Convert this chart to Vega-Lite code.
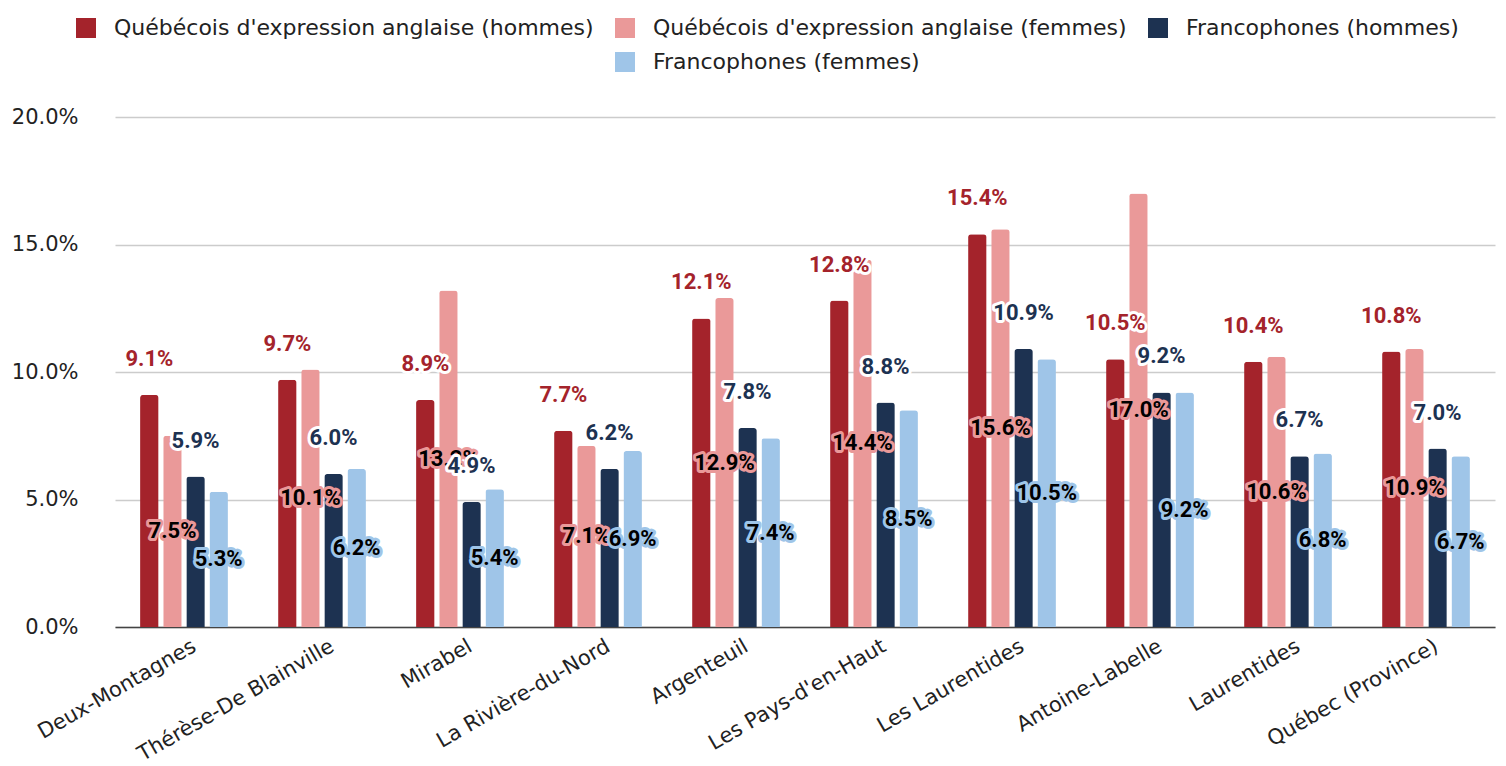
{
  "$schema": "https://vega.github.io/schema/vega-lite/v6.json",
  "width": 1414,
  "height": 510,
  "autosize": {"type": "none"},
  "padding": {"left": 90, "top": 117, "right": 2, "bottom": 139},
  "background": "white",
  "config": {"view": {"stroke": null}, "font": "DejaVu Sans"},
  "data": {"values": [
    {"region": "Deux-Montagnes", "serie": "Québécois d'expression anglaise (hommes)", "valeur": 0.091},
    {"region": "Deux-Montagnes", "serie": "Québécois d'expression anglaise (femmes)", "valeur": 0.075},
    {"region": "Deux-Montagnes", "serie": "Francophones (hommes)", "valeur": 0.059},
    {"region": "Deux-Montagnes", "serie": "Francophones (femmes)", "valeur": 0.053},
    {"region": "Thérèse-De Blainville", "serie": "Québécois d'expression anglaise (hommes)", "valeur": 0.097},
    {"region": "Thérèse-De Blainville", "serie": "Québécois d'expression anglaise (femmes)", "valeur": 0.101},
    {"region": "Thérèse-De Blainville", "serie": "Francophones (hommes)", "valeur": 0.060},
    {"region": "Thérèse-De Blainville", "serie": "Francophones (femmes)", "valeur": 0.062},
    {"region": "Mirabel", "serie": "Québécois d'expression anglaise (hommes)", "valeur": 0.089},
    {"region": "Mirabel", "serie": "Québécois d'expression anglaise (femmes)", "valeur": 0.132},
    {"region": "Mirabel", "serie": "Francophones (hommes)", "valeur": 0.049},
    {"region": "Mirabel", "serie": "Francophones (femmes)", "valeur": 0.054},
    {"region": "La Rivière-du-Nord", "serie": "Québécois d'expression anglaise (hommes)", "valeur": 0.077},
    {"region": "La Rivière-du-Nord", "serie": "Québécois d'expression anglaise (femmes)", "valeur": 0.071},
    {"region": "La Rivière-du-Nord", "serie": "Francophones (hommes)", "valeur": 0.062},
    {"region": "La Rivière-du-Nord", "serie": "Francophones (femmes)", "valeur": 0.069},
    {"region": "Argenteuil", "serie": "Québécois d'expression anglaise (hommes)", "valeur": 0.121},
    {"region": "Argenteuil", "serie": "Québécois d'expression anglaise (femmes)", "valeur": 0.129},
    {"region": "Argenteuil", "serie": "Francophones (hommes)", "valeur": 0.078},
    {"region": "Argenteuil", "serie": "Francophones (femmes)", "valeur": 0.074},
    {"region": "Les Pays-d'en-Haut", "serie": "Québécois d'expression anglaise (hommes)", "valeur": 0.128},
    {"region": "Les Pays-d'en-Haut", "serie": "Québécois d'expression anglaise (femmes)", "valeur": 0.144},
    {"region": "Les Pays-d'en-Haut", "serie": "Francophones (hommes)", "valeur": 0.088},
    {"region": "Les Pays-d'en-Haut", "serie": "Francophones (femmes)", "valeur": 0.085},
    {"region": "Les Laurentides", "serie": "Québécois d'expression anglaise (hommes)", "valeur": 0.154},
    {"region": "Les Laurentides", "serie": "Québécois d'expression anglaise (femmes)", "valeur": 0.156},
    {"region": "Les Laurentides", "serie": "Francophones (hommes)", "valeur": 0.109},
    {"region": "Les Laurentides", "serie": "Francophones (femmes)", "valeur": 0.105},
    {"region": "Antoine-Labelle", "serie": "Québécois d'expression anglaise (hommes)", "valeur": 0.105},
    {"region": "Antoine-Labelle", "serie": "Québécois d'expression anglaise (femmes)", "valeur": 0.170},
    {"region": "Antoine-Labelle", "serie": "Francophones (hommes)", "valeur": 0.092},
    {"region": "Antoine-Labelle", "serie": "Francophones (femmes)", "valeur": 0.092},
    {"region": "Laurentides", "serie": "Québécois d'expression anglaise (hommes)", "valeur": 0.104},
    {"region": "Laurentides", "serie": "Québécois d'expression anglaise (femmes)", "valeur": 0.106},
    {"region": "Laurentides", "serie": "Francophones (hommes)", "valeur": 0.067},
    {"region": "Laurentides", "serie": "Francophones (femmes)", "valeur": 0.068},
    {"region": "Québec (Province)", "serie": "Québécois d'expression anglaise (hommes)", "valeur": 0.108},
    {"region": "Québec (Province)", "serie": "Québécois d'expression anglaise (femmes)", "valeur": 0.109},
    {"region": "Québec (Province)", "serie": "Francophones (hommes)", "valeur": 0.070},
    {"region": "Québec (Province)", "serie": "Francophones (femmes)", "valeur": 0.067}
  ]},
  "encoding": {
    "x": {
      "field": "region", "type": "nominal", "sort": null,
      "scale": {"range": [25, 1405], "paddingInner": 0.33, "paddingOuter": 0.165},
      "axis": {
        "title": null, "labelAngle": -30, "labelAlign": "right", "labelBaseline": "top",
        "labelFont": "DejaVu Sans", "labelFontSize": 21, "labelColor": "#222222",
        "labelPadding": 8, "labelOffset": 5, "ticks": false, "domain": true, "domainColor": "#444444", "domainWidth": 1.5,
        "labelLimit": 400
      }
    },
    "xOffset": {
      "field": "serie", "type": "nominal",
      "scale": {"domain": ["Québécois d'expression anglaise (hommes)", "Québécois d'expression anglaise (femmes)", "Francophones (hommes)", "Francophones (femmes)"], "paddingInner": 0.2, "paddingOuter": 0.1}
    }
  },
  "layer": [
    {
      "mark": {"type": "bar", "cornerRadiusTopLeft": 3, "cornerRadiusTopRight": 3},
      "encoding": {
        "y": {
          "field": "valeur", "type": "quantitative",
          "scale": {"domain": [0, 0.2], "nice": false},
          "axis": {
            "title": null, "values": [0, 0.05, 0.1, 0.15, 0.2], "format": ".1%",
            "domain": false, "ticks": false, "gridColor": "#cccccc", "gridWidth": 1.5,
            "labelFont": "DejaVu Sans", "labelFontSize": 21, "labelColor": "#222222", "labelPadding": 12
          }
        },
        "color": {
          "field": "serie", "type": "nominal",
          "scale": {
            "domain": ["Québécois d'expression anglaise (hommes)", "Québécois d'expression anglaise (femmes)", "Francophones (hommes)", " ", "Francophones (femmes)"],
            "range": ["#A4232B", "#EA9999", "#1D3251", "transparent", "#9FC5E8"]
          },
          "legend": {
            "orient": "none", "legendX": -15, "legendY": -100, "direction": "horizontal", "columns": 3,
            "title": null, "symbolType": "square", "symbolSize": 400, "symbolStrokeWidth": 0,
            "labelFont": "DejaVu Sans", "labelFontSize": 22, "labelColor": "#222222", "labelOffset": 17,
            "columnPadding": 20, "rowPadding": 12, "labelLimit": 600
          }
        }
      }
    },
    {
      "transform": [{"filter": {"field": "serie", "equal": "Québécois d'expression anglaise (hommes)"}}],
      "mark": {"type": "text", "font": "Roboto", "fontWeight": "bold", "fontSize": 22, "baseline": "middle", "dy": -36, "stroke": "white", "strokeWidth": 6, "strokeJoin": "round", "fill": "white"},
      "encoding": {
        "y": {"field": "valeur", "type": "quantitative", "scale": {"domain": [0, 0.2], "nice": false}, "axis": null},
        "text": {"field": "valeur", "type": "quantitative", "format": ".1%"}
      }
    },
    {
      "transform": [{"filter": {"field": "serie", "equal": "Québécois d'expression anglaise (hommes)"}}],
      "mark": {"type": "text", "font": "Roboto", "fontWeight": "bold", "fontSize": 22, "baseline": "middle", "dy": -36, "fill": "#A4232B"},
      "encoding": {
        "y": {"field": "valeur", "type": "quantitative", "scale": {"domain": [0, 0.2], "nice": false}, "axis": null},
        "text": {"field": "valeur", "type": "quantitative", "format": ".1%"}
      }
    },
    {
      "transform": [{"filter": {"field": "serie", "equal": "Québécois d'expression anglaise (femmes)"}}],
      "mark": {"type": "text", "font": "Roboto", "fontWeight": "bold", "fontSize": 22, "baseline": "middle", "stroke": "#EA9999", "strokeWidth": 6, "strokeJoin": "round", "fill": "#EA9999"},
      "encoding": {
        "y": {"field": "valeur", "type": "quantitative", "scale": {"domain": [0, 0.4], "nice": false}, "axis": null},
        "text": {"field": "valeur", "type": "quantitative", "format": ".1%"}
      }
    },
    {
      "transform": [{"filter": {"field": "serie", "equal": "Québécois d'expression anglaise (femmes)"}}],
      "mark": {"type": "text", "font": "Roboto", "fontWeight": "bold", "fontSize": 22, "baseline": "middle", "fill": "#000000"},
      "encoding": {
        "y": {"field": "valeur", "type": "quantitative", "scale": {"domain": [0, 0.4], "nice": false}, "axis": null},
        "text": {"field": "valeur", "type": "quantitative", "format": ".1%"}
      }
    },
    {
      "transform": [{"filter": {"field": "serie", "equal": "Francophones (hommes)"}}],
      "mark": {"type": "text", "font": "Roboto", "fontWeight": "bold", "fontSize": 22, "baseline": "middle", "dy": -36, "stroke": "white", "strokeWidth": 6, "strokeJoin": "round", "fill": "white"},
      "encoding": {
        "y": {"field": "valeur", "type": "quantitative", "scale": {"domain": [0, 0.2], "nice": false}, "axis": null},
        "text": {"field": "valeur", "type": "quantitative", "format": ".1%"}
      }
    },
    {
      "transform": [{"filter": {"field": "serie", "equal": "Francophones (hommes)"}}],
      "mark": {"type": "text", "font": "Roboto", "fontWeight": "bold", "fontSize": 22, "baseline": "middle", "dy": -36, "fill": "#1D3251"},
      "encoding": {
        "y": {"field": "valeur", "type": "quantitative", "scale": {"domain": [0, 0.2], "nice": false}, "axis": null},
        "text": {"field": "valeur", "type": "quantitative", "format": ".1%"}
      }
    },
    {
      "transform": [{"filter": {"field": "serie", "equal": "Francophones (femmes)"}}],
      "mark": {"type": "text", "font": "Roboto", "fontWeight": "bold", "fontSize": 22, "baseline": "middle", "stroke": "#9FC5E8", "strokeWidth": 6, "strokeJoin": "round", "fill": "#9FC5E8"},
      "encoding": {
        "y": {"field": "valeur", "type": "quantitative", "scale": {"domain": [0, 0.4], "nice": false}, "axis": null},
        "text": {"field": "valeur", "type": "quantitative", "format": ".1%"}
      }
    },
    {
      "transform": [{"filter": {"field": "serie", "equal": "Francophones (femmes)"}}],
      "mark": {"type": "text", "font": "Roboto", "fontWeight": "bold", "fontSize": 22, "baseline": "middle", "fill": "#000000"},
      "encoding": {
        "y": {"field": "valeur", "type": "quantitative", "scale": {"domain": [0, 0.4], "nice": false}, "axis": null},
        "text": {"field": "valeur", "type": "quantitative", "format": ".1%"}
      }
    }
  ],
  "resolve": {"scale": {"y": "independent"}}
}
